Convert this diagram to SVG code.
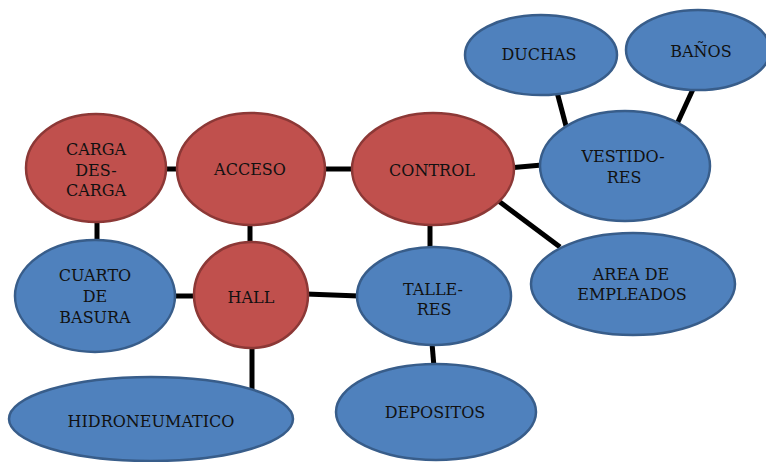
<svg xmlns="http://www.w3.org/2000/svg" width="766" height="462" viewBox="0 0 766 462">
<style>
.red{fill:#C0504D;stroke:#8C3836;stroke-width:2.5}
.blue{fill:#4F81BD;stroke:#385D8A;stroke-width:2.5}
.lbl{font-family:"DejaVu Serif","Liberation Serif",serif;font-size:16px;fill:#111;text-anchor:middle}
#connectors line{stroke:#000;stroke-width:5;stroke-linecap:butt}
</style>
<rect width="766" height="462" fill="#fff"/>
<g id="connectors">
<line x1="164" y1="169" x2="179" y2="169"/>
<line x1="323" y1="169" x2="354" y2="169"/>
<line x1="97" y1="220" x2="97" y2="242"/>
<line x1="250" y1="223" x2="250" y2="244"/>
<line x1="173" y1="296" x2="196" y2="296"/>
<line x1="306" y1="294" x2="359" y2="296"/>
<line x1="430" y1="222" x2="430" y2="250"/>
<line x1="508" y1="168" x2="542" y2="165"/>
<line x1="496" y1="199" x2="560" y2="247"/>
<line x1="557" y1="92" x2="566" y2="126"/>
<line x1="694" y1="87" x2="677" y2="124"/>
<line x1="432" y1="343" x2="434" y2="367"/>
<line x1="252" y1="346" x2="252" y2="390"/>
</g>
<g id="duchas"><ellipse class="blue" cx="541" cy="55" rx="76" ry="40"/><text class="lbl" x="539" y="60">DUCHAS</text></g>
<g id="banos"><ellipse class="blue" cx="698" cy="50" rx="72" ry="40"/><text class="lbl" x="701" y="57">BAÑOS</text></g>
<g id="carga"><ellipse class="red" cx="96" cy="168" rx="70" ry="54"/><text class="lbl" x="96" y="155">CARGA</text><text class="lbl" x="96" y="176">DES-</text><text class="lbl" x="96" y="196">CARGA</text></g>
<g id="acceso"><ellipse class="red" cx="251" cy="169" rx="74" ry="56"/><text class="lbl" x="250" y="175">ACCESO</text></g>
<g id="control"><ellipse class="red" cx="433" cy="169" rx="81" ry="56"/><text class="lbl" x="432" y="176">CONTROL</text></g>
<g id="vestidores"><ellipse class="blue" cx="625" cy="166" rx="85" ry="55"/><text class="lbl" x="623" y="162">VESTIDO-</text><text class="lbl" x="624" y="183">RES</text></g>
<g id="cuarto"><ellipse class="blue" cx="95" cy="296" rx="80" ry="56"/><text class="lbl" x="95" y="281">CUARTO</text><text class="lbl" x="95" y="302">DE</text><text class="lbl" x="95" y="323">BASURA</text></g>
<g id="hall"><ellipse class="red" cx="251" cy="295" rx="57" ry="53"/><text class="lbl" x="251" y="303">HALL</text></g>
<g id="talleres"><ellipse class="blue" cx="434" cy="296" rx="77" ry="49"/><text class="lbl" x="433" y="295">TALLE-</text><text class="lbl" x="434" y="315">RES</text></g>
<g id="area"><ellipse class="blue" cx="633" cy="284" rx="102" ry="51"/><text class="lbl" x="631" y="280">AREA DE</text><text class="lbl" x="632" y="300">EMPLEADOS</text></g>
<g id="depositos"><ellipse class="blue" cx="436" cy="412" rx="100" ry="48"/><text class="lbl" x="435" y="418">DEPOSITOS</text></g>
<g id="hidro"><ellipse class="blue" cx="151" cy="419" rx="142" ry="42"/><text class="lbl" x="151" y="427">HIDRONEUMATICO</text></g>
</svg>
